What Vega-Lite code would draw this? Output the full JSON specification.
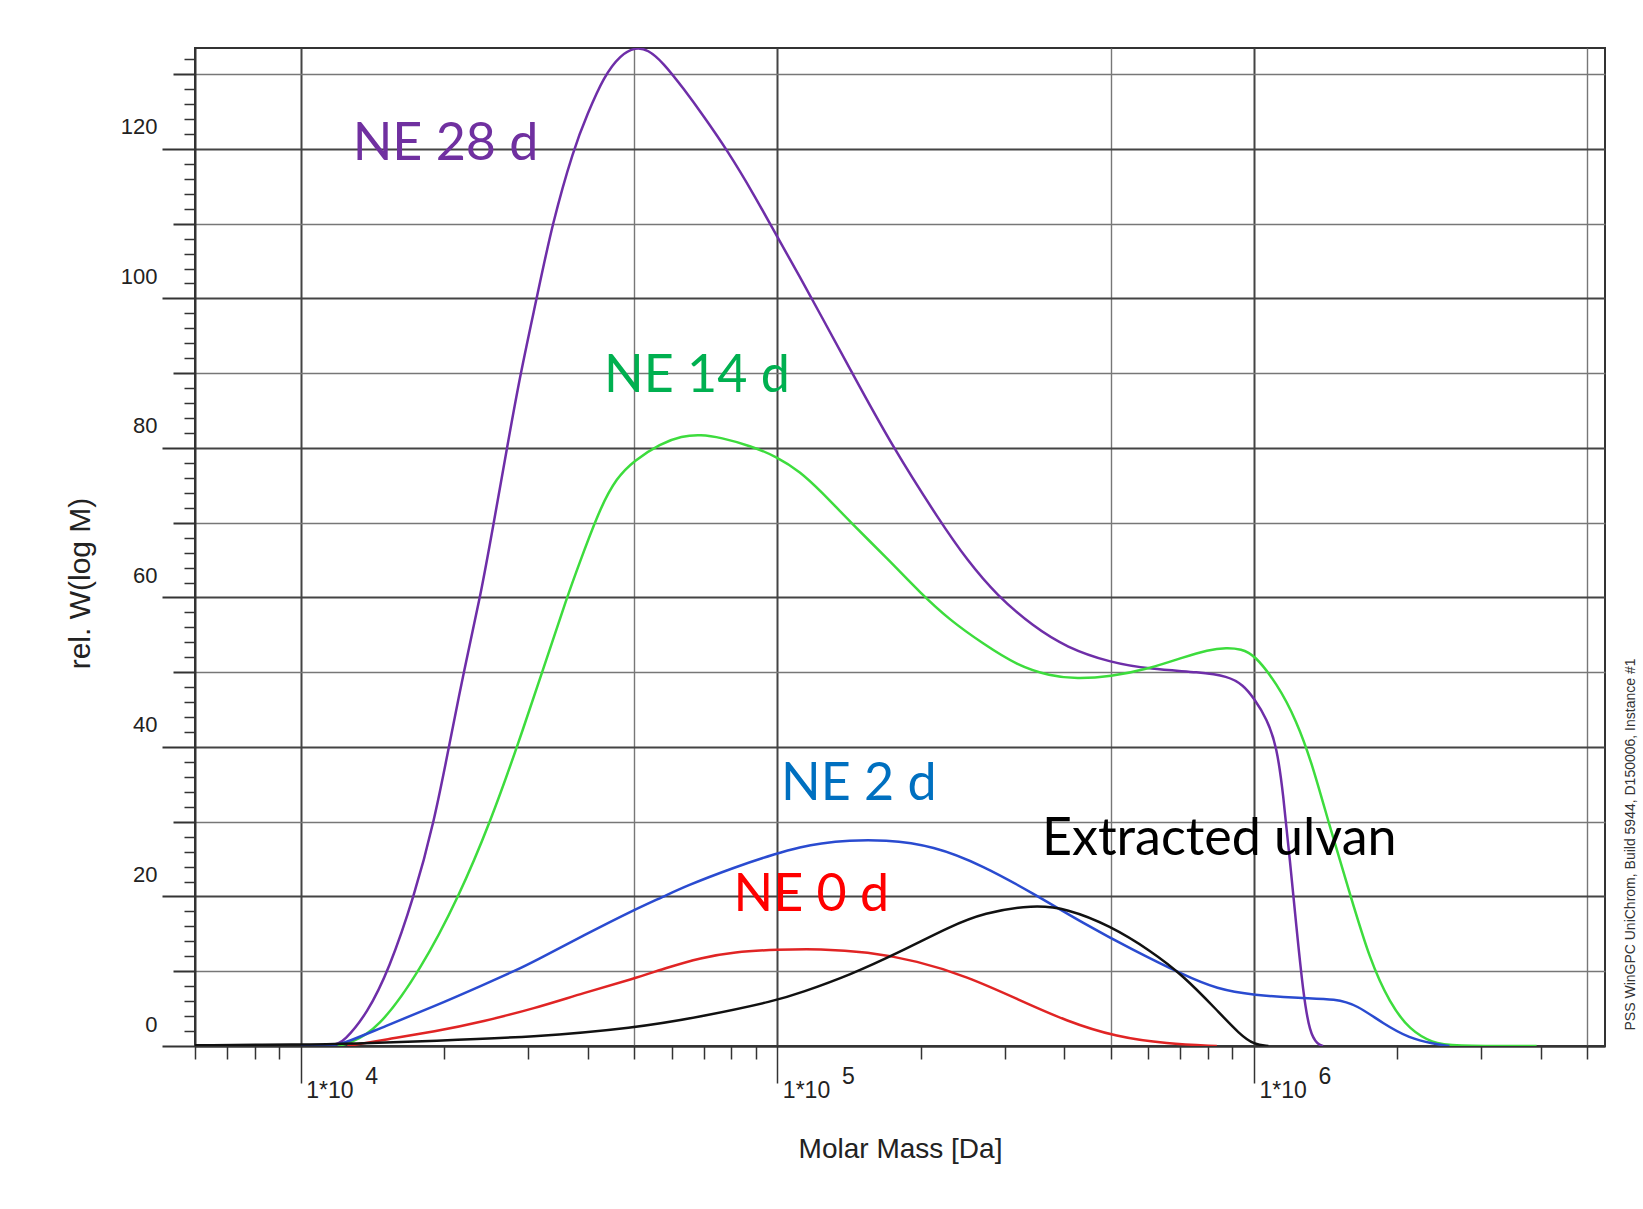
{
  "$schema": "https://vega.github.io/schema/vega-lite/v6.json",
  "width": 1410,
  "height": 998,
  "autosize": "none",
  "padding": {"left": 195, "top": 48, "right": 38, "bottom": 163},
  "background": "white",
  "config": {
    "view": {"stroke": "#333333", "strokeWidth": 2},
    "font": "Liberation Sans"
  },
  "datasets": {
    "curves": [
      {"series": "NE 28 d", "M": 10000, "w": 0},
      {"series": "NE 28 d", "M": 11700, "w": 0},
      {"series": "NE 28 d", "M": 12330, "w": 0.6},
      {"series": "NE 28 d", "M": 13800, "w": 4.4},
      {"series": "NE 28 d", "M": 15310, "w": 10.2},
      {"series": "NE 28 d", "M": 17300, "w": 20.0},
      {"series": "NE 28 d", "M": 19050, "w": 30.0},
      {"series": "NE 28 d", "M": 20460, "w": 40.0},
      {"series": "NE 28 d", "M": 21980, "w": 50.1},
      {"series": "NE 28 d", "M": 23820, "w": 60.1},
      {"series": "NE 28 d", "M": 25410, "w": 70.0},
      {"series": "NE 28 d", "M": 27100, "w": 80.1},
      {"series": "NE 28 d", "M": 28910, "w": 90.0},
      {"series": "NE 28 d", "M": 31260, "w": 100.0},
      {"series": "NE 28 d", "M": 33730, "w": 110.1},
      {"series": "NE 28 d", "M": 37410, "w": 120.1},
      {"series": "NE 28 d", "M": 39900, "w": 124.6},
      {"series": "NE 28 d", "M": 43250, "w": 129.7},
      {"series": "NE 28 d", "M": 46880, "w": 132.6},
      {"series": "NE 28 d", "M": 50350, "w": 133.6},
      {"series": "NE 28 d", "M": 53500, "w": 133.3},
      {"series": "NE 28 d", "M": 57500, "w": 131.6},
      {"series": "NE 28 d", "M": 63680, "w": 128.0},
      {"series": "NE 28 d", "M": 70000, "w": 124.4},
      {"series": "NE 28 d", "M": 78520, "w": 119.8},
      {"series": "NE 28 d", "M": 89130, "w": 114.0},
      {"series": "NE 28 d", "M": 100000, "w": 108.2},
      {"series": "NE 28 d", "M": 111700, "w": 102.8},
      {"series": "NE 28 d", "M": 123000, "w": 97.9},
      {"series": "NE 28 d", "M": 142200, "w": 90.5},
      {"series": "NE 28 d", "M": 173800, "w": 80.3},
      {"series": "NE 28 d", "M": 219800, "w": 70.1},
      {"series": "NE 28 d", "M": 250000, "w": 65.0},
      {"series": "NE 28 d", "M": 288400, "w": 60.3},
      {"series": "NE 28 d", "M": 344400, "w": 56.1},
      {"series": "NE 28 d", "M": 404600, "w": 53.3},
      {"series": "NE 28 d", "M": 498900, "w": 51.3},
      {"series": "NE 28 d", "M": 605300, "w": 50.4},
      {"series": "NE 28 d", "M": 770900, "w": 50.0},
      {"series": "NE 28 d", "M": 880000, "w": 49.5},
      {"series": "NE 28 d", "M": 950000, "w": 48.3},
      {"series": "NE 28 d", "M": 1000000, "w": 46.5},
      {"series": "NE 28 d", "M": 1064000, "w": 43.8},
      {"series": "NE 28 d", "M": 1117000, "w": 40.0},
      {"series": "NE 28 d", "M": 1151000, "w": 33.8},
      {"series": "NE 28 d", "M": 1189000, "w": 24.9},
      {"series": "NE 28 d", "M": 1227000, "w": 16.0},
      {"series": "NE 28 d", "M": 1268000, "w": 7.1},
      {"series": "NE 28 d", "M": 1309000, "w": 1.7},
      {"series": "NE 28 d", "M": 1360000, "w": 0.2},
      {"series": "NE 28 d", "M": 1396000, "w": 0},

      {"series": "NE 14 d", "M": 11940, "w": 0},
      {"series": "NE 14 d", "M": 12590, "w": 0.3},
      {"series": "NE 14 d", "M": 14490, "w": 2.1},
      {"series": "NE 14 d", "M": 17860, "w": 10.2},
      {"series": "NE 14 d", "M": 21480, "w": 20.0},
      {"series": "NE 14 d", "M": 25000, "w": 30.0},
      {"series": "NE 14 d", "M": 28440, "w": 40.0},
      {"series": "NE 14 d", "M": 32140, "w": 50.1},
      {"series": "NE 14 d", "M": 36220, "w": 60.1},
      {"series": "NE 14 d", "M": 38640, "w": 65.0},
      {"series": "NE 14 d", "M": 42560, "w": 72.1},
      {"series": "NE 14 d", "M": 46000, "w": 76.0},
      {"series": "NE 14 d", "M": 50000, "w": 78.3},
      {"series": "NE 14 d", "M": 56890, "w": 80.6},
      {"series": "NE 14 d", "M": 63000, "w": 81.6},
      {"series": "NE 14 d", "M": 69020, "w": 81.8},
      {"series": "NE 14 d", "M": 76030, "w": 81.4},
      {"series": "NE 14 d", "M": 87700, "w": 80.3},
      {"series": "NE 14 d", "M": 100000, "w": 78.8},
      {"series": "NE 14 d", "M": 111700, "w": 76.8},
      {"series": "NE 14 d", "M": 123000, "w": 74.3},
      {"series": "NE 14 d", "M": 142200, "w": 70.1},
      {"series": "NE 14 d", "M": 172600, "w": 64.8},
      {"series": "NE 14 d", "M": 199500, "w": 60.6},
      {"series": "NE 14 d", "M": 230700, "w": 56.9},
      {"series": "NE 14 d", "M": 270400, "w": 53.8},
      {"series": "NE 14 d", "M": 318400, "w": 50.9},
      {"series": "NE 14 d", "M": 373300, "w": 49.5},
      {"series": "NE 14 d", "M": 424600, "w": 49.1},
      {"series": "NE 14 d", "M": 498900, "w": 49.4},
      {"series": "NE 14 d", "M": 605300, "w": 50.5},
      {"series": "NE 14 d", "M": 711200, "w": 52.0},
      {"series": "NE 14 d", "M": 800000, "w": 53.0},
      {"series": "NE 14 d", "M": 877000, "w": 53.3},
      {"series": "NE 14 d", "M": 940000, "w": 53.1},
      {"series": "NE 14 d", "M": 1000000, "w": 52.4},
      {"series": "NE 14 d", "M": 1117000, "w": 48.5},
      {"series": "NE 14 d", "M": 1227000, "w": 43.6},
      {"series": "NE 14 d", "M": 1330000, "w": 37.4},
      {"series": "NE 14 d", "M": 1442000, "w": 29.3},
      {"series": "NE 14 d", "M": 1589000, "w": 20.4},
      {"series": "NE 14 d", "M": 1750000, "w": 11.5},
      {"series": "NE 14 d", "M": 1928000, "w": 5.7},
      {"series": "NE 14 d", "M": 2123000, "w": 2.1},
      {"series": "NE 14 d", "M": 2377000, "w": 0.4},
      {"series": "NE 14 d", "M": 2576000, "w": 0},
      {"series": "NE 14 d", "M": 3917000, "w": 0},

      {"series": "NE 2 d", "M": 10000, "w": 0},
      {"series": "NE 2 d", "M": 11700, "w": 0},
      {"series": "NE 2 d", "M": 12500, "w": 0.5},
      {"series": "NE 2 d", "M": 14960, "w": 2.6},
      {"series": "NE 2 d", "M": 19050, "w": 5.3},
      {"series": "NE 2 d", "M": 24210, "w": 8.2},
      {"series": "NE 2 d", "M": 28440, "w": 10.2},
      {"series": "NE 2 d", "M": 30830, "w": 11.3},
      {"series": "NE 2 d", "M": 39260, "w": 14.8},
      {"series": "NE 2 d", "M": 50000, "w": 18.2},
      {"series": "NE 2 d", "M": 57810, "w": 20.0},
      {"series": "NE 2 d", "M": 63680, "w": 21.3},
      {"series": "NE 2 d", "M": 81100, "w": 23.9},
      {"series": "NE 2 d", "M": 100000, "w": 25.8},
      {"series": "NE 2 d", "M": 111700, "w": 26.6},
      {"series": "NE 2 d", "M": 123000, "w": 27.1},
      {"series": "NE 2 d", "M": 141000, "w": 27.5},
      {"series": "NE 2 d", "M": 167100, "w": 27.6},
      {"series": "NE 2 d", "M": 212800, "w": 26.8},
      {"series": "NE 2 d", "M": 270400, "w": 24.1},
      {"series": "NE 2 d", "M": 344400, "w": 20.4},
      {"series": "NE 2 d", "M": 438500, "w": 16.4},
      {"series": "NE 2 d", "M": 558500, "w": 12.8},
      {"series": "NE 2 d", "M": 711200, "w": 9.5},
      {"series": "NE 2 d", "M": 835600, "w": 7.6},
      {"series": "NE 2 d", "M": 1000000, "w": 6.8},
      {"series": "NE 2 d", "M": 1247000, "w": 6.4},
      {"series": "NE 2 d", "M": 1489000, "w": 6.3},
      {"series": "NE 2 d", "M": 1641000, "w": 5.5},
      {"series": "NE 2 d", "M": 1866000, "w": 3.0},
      {"series": "NE 2 d", "M": 2123000, "w": 1.0},
      {"series": "NE 2 d", "M": 2377000, "w": 0.3},
      {"series": "NE 2 d", "M": 2570000, "w": 0},

      {"series": "NE 0 d", "M": 12530, "w": 0},
      {"series": "NE 0 d", "M": 15140, "w": 0.9},
      {"series": "NE 0 d", "M": 19050, "w": 1.9},
      {"series": "NE 0 d", "M": 24210, "w": 3.3},
      {"series": "NE 0 d", "M": 30830, "w": 5.0},
      {"series": "NE 0 d", "M": 39260, "w": 7.1},
      {"series": "NE 0 d", "M": 50000, "w": 9.0},
      {"series": "NE 0 d", "M": 58750, "w": 10.5},
      {"series": "NE 0 d", "M": 69020, "w": 11.8},
      {"series": "NE 0 d", "M": 81100, "w": 12.6},
      {"series": "NE 0 d", "M": 100000, "w": 12.9},
      {"series": "NE 0 d", "M": 123000, "w": 13.0},
      {"series": "NE 0 d", "M": 154200, "w": 12.6},
      {"series": "NE 0 d", "M": 196300, "w": 11.4},
      {"series": "NE 0 d", "M": 250000, "w": 9.3},
      {"series": "NE 0 d", "M": 318400, "w": 6.3},
      {"series": "NE 0 d", "M": 404600, "w": 3.3},
      {"series": "NE 0 d", "M": 515200, "w": 1.2},
      {"series": "NE 0 d", "M": 656100, "w": 0.3},
      {"series": "NE 0 d", "M": 835600, "w": 0},

      {"series": "Extracted ulvan", "M": 6000, "w": 0.1},
      {"series": "Extracted ulvan", "M": 10000, "w": 0.2},
      {"series": "Extracted ulvan", "M": 12740, "w": 0.3},
      {"series": "Extracted ulvan", "M": 19050, "w": 0.7},
      {"series": "Extracted ulvan", "M": 30830, "w": 1.2},
      {"series": "Extracted ulvan", "M": 50000, "w": 2.4},
      {"series": "Extracted ulvan", "M": 69020, "w": 3.9},
      {"series": "Extracted ulvan", "M": 100000, "w": 6.1},
      {"series": "Extracted ulvan", "M": 111700, "w": 7.1},
      {"series": "Extracted ulvan", "M": 142200, "w": 9.5},
      {"series": "Extracted ulvan", "M": 181100, "w": 12.6},
      {"series": "Extracted ulvan", "M": 230700, "w": 16.0},
      {"series": "Extracted ulvan", "M": 270400, "w": 17.8},
      {"series": "Extracted ulvan", "M": 344400, "w": 18.9},
      {"series": "Extracted ulvan", "M": 404600, "w": 18.4},
      {"series": "Extracted ulvan", "M": 498900, "w": 16.1},
      {"series": "Extracted ulvan", "M": 605300, "w": 12.8},
      {"series": "Extracted ulvan", "M": 711200, "w": 9.4},
      {"series": "Extracted ulvan", "M": 835600, "w": 4.8},
      {"series": "Extracted ulvan", "M": 935400, "w": 1.5},
      {"series": "Extracted ulvan", "M": 1000000, "w": 0.2},
      {"series": "Extracted ulvan", "M": 1072000, "w": 0}
    ],
    "labels": [
      {"series": "NE 28 d", "label": "NE 28 d", "M": 12850, "w": 118.5},
      {"series": "NE 14 d", "label": "NE 14 d", "M": 43270, "w": 87.5},
      {"series": "NE 2 d", "label": "NE 2 d", "M": 101740, "w": 32.9},
      {"series": "NE 0 d", "label": "NE 0 d", "M": 80900, "w": 18.1},
      {"series": "Extracted ulvan", "label": "Extracted ulvan", "M": 359000, "w": 25.5}
    ],
    "exps": [
      {"M": 10000, "w": 0, "exp": "4"},
      {"M": 100000, "w": 0, "exp": "5"},
      {"M": 1000000, "w": 0, "exp": "6"}
    ]
  },
  "layer": [
    {
      "data": {"name": "curves"},
      "mark": {"type": "line", "strokeWidth": 2.5, "interpolate": "basis", "clip": true},
      "encoding": {
        "x": {
          "field": "M", "type": "quantitative",
          "scale": {"type": "log", "domain": [6000, 5450000], "nice": false},
          "axis": {
            "values": [6000, 7000, 8000, 9000, 10000, 20000, 30000, 40000, 50000, 60000, 70000, 80000, 90000, 100000, 200000, 300000, 400000, 500000, 600000, 700000, 800000, 900000, 1000000, 2000000, 3000000, 4000000, 5000000],
            "title": "Molar Mass [Da]",
            "titleFontSize": 28, "titleFontWeight": "normal", "titleColor": "#222222",
            "titleY": 103, "titleBaseline": "middle",
            "labelExpr": "(datum.value === 10000 || datum.value === 100000 || datum.value === 1000000) ? '1*10' : ''",
            "labelAlign": "left", "labelBaseline": "middle", "labelOffset": 5, "labelPadding": 7,
            "labelFontSize": 23, "labelColor": "#222222", "labelOverlap": false, "labelFlush": false, "labelBound": false,
            "domain": true, "domainColor": "#333333", "domainWidth": 2,
            "ticks": true, "tickColor": "#333333",
            "tickSize": {"expr": "(datum.value === 10000 || datum.value === 100000 || datum.value === 1000000) ? 37 : 13"},
            "tickWidth": 1.5,
            "grid": true,
            "gridColor": {"expr": "(datum.value === 10000 || datum.value === 100000 || datum.value === 1000000) ? '#444444' : '#777777'"},
            "gridWidth": {"expr": "(datum.value === 10000 || datum.value === 100000 || datum.value === 1000000) ? 2 : 1.4"},
            "gridOpacity": {"expr": "(datum.value === 10000 || datum.value === 100000 || datum.value === 1000000 || datum.value === 50000 || datum.value === 500000 || datum.value === 5000000) ? 1 : 0"}
          }
        },
        "y": {
          "field": "w", "type": "quantitative",
          "scale": {"domain": [0, 133.5], "nice": false, "zero": true},
          "axis": {
            "values": [0, 2, 4, 6, 8, 10, 12, 14, 16, 18, 20, 22, 24, 26, 28, 30, 32, 34, 36, 38, 40, 42, 44, 46, 48, 50, 52, 54, 56, 58, 60, 62, 64, 66, 68, 70, 72, 74, 76, 78, 80, 82, 84, 86, 88, 90, 92, 94, 96, 98, 100, 102, 104, 106, 108, 110, 112, 114, 116, 118, 120, 122, 124, 126, 128, 130, 132],
            "title": "rel. W(log M)",
            "titleFontSize": 30, "titleFontWeight": "normal", "titleColor": "#222222",
            "titleX": -115, "titleY": 535, "titleAngle": 270, "titleBaseline": "middle", "titleAlign": "center",
            "labelExpr": "datum.value % 20 === 0 ? datum.label : ''",
            "labelAlign": "right", "labelBaseline": "middle", "labelOffset": -22, "labelPadding": 5,
            "labelFontSize": 22, "labelColor": "#222222", "labelOverlap": false, "labelFlush": false, "labelBound": false,
            "domain": true, "domainColor": "#333333", "domainWidth": 2,
            "ticks": true, "tickColor": "#333333",
            "tickSize": {"expr": "datum.value % 20 === 0 ? 33 : (datum.value % 10 === 0 ? 22 : 11)"},
            "tickWidth": {"expr": "datum.value % 10 === 0 ? 2 : 1.5"},
            "grid": true,
            "gridColor": {"expr": "datum.value % 20 === 0 ? '#444444' : '#777777'"},
            "gridWidth": {"expr": "datum.value % 20 === 0 ? 2 : 1.4"},
            "gridOpacity": {"expr": "datum.value % 10 === 0 ? 1 : 0"}
          }
        },
        "color": {
          "field": "series", "type": "nominal",
          "scale": {
            "domain": ["NE 28 d", "NE 14 d", "NE 2 d", "NE 0 d", "Extracted ulvan"],
            "range": ["#6E2EA8", "#3DDC3D", "#2A4BD0", "#E02424", "#111111"]
          },
          "legend": null
        }
      }
    },
    {
      "data": {"name": "labels"},
      "mark": {"type": "text", "align": "left", "baseline": "alphabetic", "fontSize": 52, "font": "Lato"},
      "encoding": {
        "x": {"field": "M", "type": "quantitative"},
        "y": {
          "field": "w", "type": "quantitative",
          "axis": {
            "orient": "right",
            "title": "PSS WinGPC UniChrom, Build 5944, D150006, Instance #1",
            "titleFontSize": 14, "titleFontWeight": "normal", "titleColor": "#333333",
            "titleAngle": 270, "titleX": 25, "titleY": 796, "titleAlign": "center", "titleBaseline": "middle",
            "labels": false, "ticks": false, "domain": false, "grid": false
          }
        },
        "text": {"field": "label", "type": "nominal"},
        "color": {
          "field": "series", "type": "nominal",
          "scale": {
            "domain": ["NE 28 d", "NE 14 d", "NE 2 d", "NE 0 d", "Extracted ulvan"],
            "range": ["#7030A0", "#00B050", "#0070C0", "#FF0000", "#000000"]
          },
          "legend": null
        }
      }
    },
    {
      "data": {"name": "exps"},
      "mark": {"type": "text", "align": "center", "baseline": "middle", "dx": 71, "dy": 31, "fontSize": 23, "color": "#222222", "font": "Liberation Sans"},
      "encoding": {
        "x": {"field": "M", "type": "quantitative"},
        "y": {"field": "w", "type": "quantitative", "axis": null},
        "text": {"field": "exp", "type": "nominal"}
      }
    }
  ],
  "resolve": {"axis": {"y": "independent"}, "scale": {"color": "independent"}}
}
